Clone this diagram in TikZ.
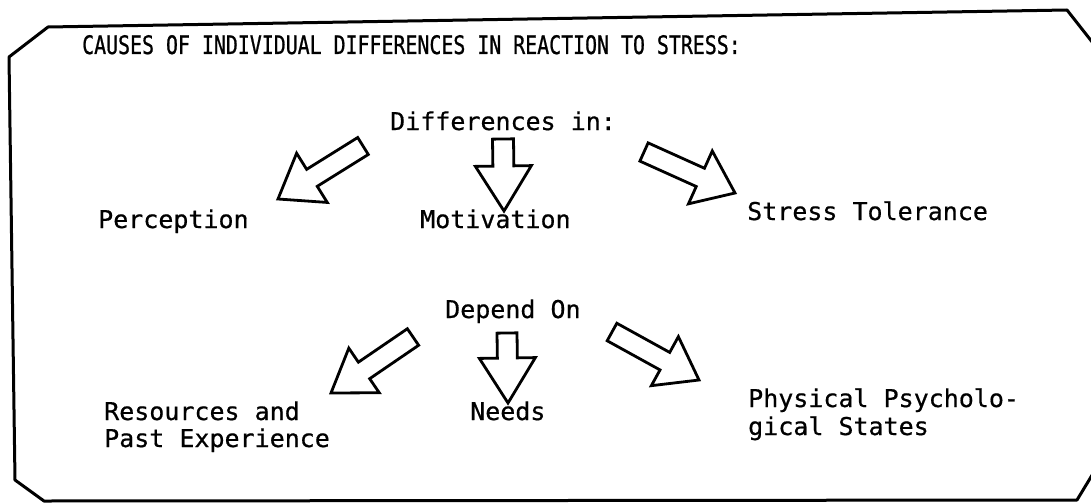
\documentclass[tikz,border=0pt]{standalone}
\usepackage{fontspec}
\usetikzlibrary{calc}
\newfontfamily\titlefont[FakeStretch=0.78,FakeBold=0.8]{DejaVu Sans Mono}
\newfontfamily\bodyfont[FakeStretch=1.02,FakeBold=0.6]{DejaVu Sans Mono}
\tikzset{
  frameline/.style={line width=3pt, line join=round},
  blk/.style={line width=2.8pt, line join=miter, fill=white},
  lbl/.style={anchor=base west, inner sep=0pt, font=\bodyfont\fontsize{24.5}{27}\selectfont},
  ttl/.style={anchor=base west, inner sep=0pt, font=\titlefont\fontsize{25.5}{28}\selectfont},
}
\newcommand{\blockarr}[5]{%
  \coordinate (ba-s) at ($(#2)!#5!(#1)$);
  \draw[blk] ($(#1)!#3!90:(#2)$) -- ($(ba-s)!#3!90:(#2)$) -- ($(ba-s)!#4!90:(#2)$) -- (#2)
    -- ($(ba-s)!#4!-90:(#2)$) -- ($(ba-s)!#3!-90:(#2)$) -- ($(#1)!#3!-90:(#2)$) -- cycle;
}
\begin{document}
\begin{tikzpicture}[x=1pt,y=-1pt]
\useasboundingbox (0,0) rectangle (1091,503);
% frame
\draw[frameline] (9,57) -- (48,27) -- (1067,10) -- (1100,52) -- (1100,462) -- (1077,500)
  -- (44,501) -- (15,480) -- cycle;
% texts
\node[ttl] (title) at (82,54) {CAUSES OF INDIVIDUAL DIFFERENCES IN REACTION TO STRESS:};
\node[lbl] (diff) at (390,130) {Differences in:};
\node[lbl] (perc) at (98,228) {Perception};
\node[lbl] (moti) at (420,228) {Motivation};
\node[lbl] (stol) at (747,220) {Stress Tolerance};
\node[lbl] (dep) at (445,318) {Depend On};
\node[lbl] (res1) at (104,420) {Resources and};
\node[lbl] (res2) at (104,447) {Past Experience};
\node[lbl] (need) at (470,420) {Needs};
\node[lbl] (phy1) at (748,407) {Physical Psycholo-};
\node[lbl] (phy2) at (748,435) {gical States};
% arrow ends
\coordinate (u1t) at (363,146); \coordinate (u1h) at (278,199);
\coordinate (u2t) at (503,139); \coordinate (u2h) at (504,211);
\coordinate (u3t) at (644,152); \coordinate (u3h) at (735,193);
\coordinate (l1t) at (413,337); \coordinate (l1h) at (331,393);
\coordinate (l2t) at (507,333); \coordinate (l2h) at (508,403);
\coordinate (l3t) at (612,332); \coordinate (l3h) at (699,380);
% block arrows
\blockarr{u1t}{u1h}{10pt}{29pt}{40pt}
\blockarr{u2t}{u2h}{10.5pt}{28pt}{45pt}
\blockarr{u3t}{u3h}{10pt}{29pt}{38pt}
\blockarr{l1t}{l1h}{10pt}{27pt}{40pt}
\blockarr{l2t}{l2h}{10pt}{28pt}{45pt}
\blockarr{l3t}{l3h}{10pt}{28pt}{39pt}
\end{tikzpicture}
\end{document}
